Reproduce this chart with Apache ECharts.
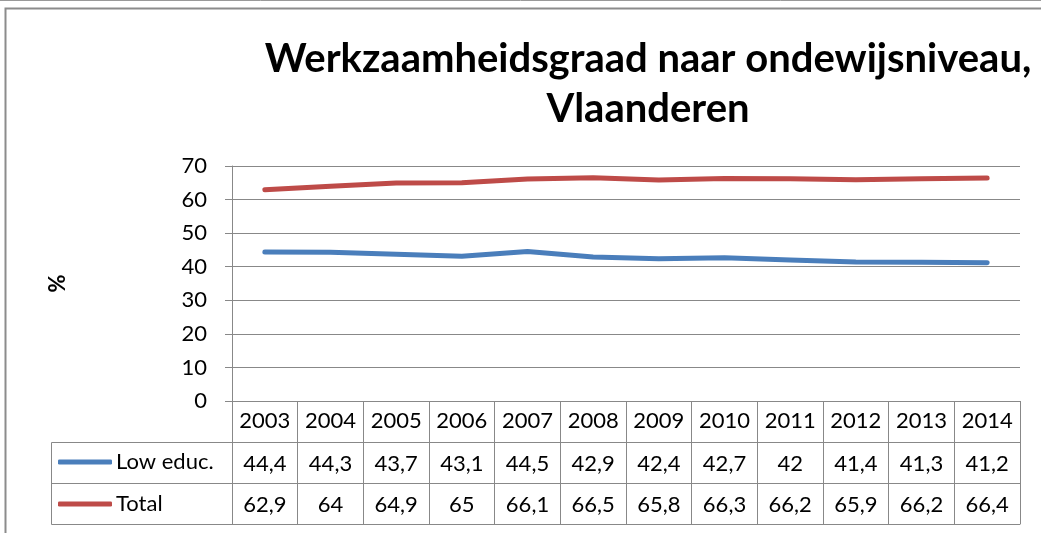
<!DOCTYPE html>
<html>
<head>
<meta charset="utf-8">
<script src="https://cdn.jsdelivr.net/npm/echarts@6/dist/echarts.min.js"></script>
<style>
  html, body { margin: 0; padding: 0; background: #fff; }
  #chart { width: 1041px; height: 533px; }
</style>
</head>
<body>
<div id="chart"></div>
<script>
var years = ['2003', '2004', '2005', '2006', '2007', '2008', '2009', '2010', '2011', '2012', '2013', '2014'];
var lowEduc = [44.4, 44.3, 43.7, 43.1, 44.5, 42.9, 42.4, 42.7, 42, 41.4, 41.3, 41.2];
var total = [62.9, 64, 64.9, 65, 66.1, 66.5, 65.8, 66.3, 66.2, 65.9, 66.2, 66.4];
var seriesNames = ['Low educ.', 'Total'];
var colors = ['#4A7EBB', '#BE4B48'];

var font = 'Lato, "Open Sans", sans-serif';
var gridColor = '#888888';

// Excel schrijft decimalen met een komma
function fmt(v) {
    return String(v).replace('.', ',');
}

// rij van de datatabel als extra x-as
function tableAxis(offset, values) {
    return {
        type: 'category',
        data: years,
        position: 'bottom',
        offset: offset,
        axisLine: { show: true, lineStyle: { color: gridColor, width: 1 } },
        axisTick: { show: false },
        axisLabel: {
            show: values != null,
            interval: 0,
            margin: 11,
            fontFamily: font,
            fontSize: 22,
            color: '#000',
            formatter: function (v, i) { return values ? fmt(values[i]) : ''; }
        }
    };
}

var chart = echarts.init(document.getElementById('chart'));
var option = {
    animation: false,
    backgroundColor: '#fff',
    color: colors,
    title: {
        text: 'Werkzaamheidsgraad naar ondewijsniveau,\nVlaanderen',
        left: 643,
        top: 29,
        textAlign: 'center',
        textStyle: {
            fontFamily: font,
            fontWeight: 'bold',
            fontSize: 40,
            lineHeight: 50,
            color: '#000'
        }
    },
    legend: {
        orient: 'vertical',
        left: 58,
        top: 451,
        padding: 0,
        itemWidth: 54,
        itemHeight: 5,
        itemGap: 20,
        icon: 'roundRect',
        data: seriesNames,
        textStyle: { fontFamily: font, fontSize: 22, color: '#000', padding: [0, 0, 0, -1] }
    },
    grid: {
        left: 232,
        right: 21,
        top: 166,
        bottom: 132,
        containLabel: false
    },
    xAxis: [
        {
            type: 'category',
            data: years,
            position: 'bottom',
            boundaryGap: true,
            axisLine: { show: true, lineStyle: { color: gridColor, width: 1 } },
            axisTick: { show: true, length: 123, lineStyle: { color: gridColor, width: 1 } },
            axisLabel: { interval: 0, margin: 9, fontFamily: font, fontSize: 22, color: '#000' },
            splitLine: { show: false }
        },
        tableAxis(41, lowEduc),
        tableAxis(82, total),
        tableAxis(123, null)
    ],
    yAxis: {
        type: 'value',
        min: 0,
        max: 70,
        interval: 10,
        name: '%',
        nameLocation: 'middle',
        nameRotate: 90,
        nameGap: 163,
        nameTextStyle: { fontFamily: font, fontWeight: 'bold', fontSize: 22, color: '#000' },
        axisLine: { show: true, lineStyle: { color: gridColor, width: 1 } },
        axisTick: { show: true, length: 7, lineStyle: { color: gridColor } },
        axisLabel: { margin: 25, fontFamily: font, fontSize: 22, color: '#000' },
        splitLine: { show: true, lineStyle: { color: gridColor, width: 1 } }
    },
    series: [
        {
            name: seriesNames[0],
            type: 'line',
            data: lowEduc,
            symbol: 'none',
            lineStyle: { width: 5, cap: 'round', join: 'round' }
        },
        {
            name: seriesNames[1],
            type: 'line',
            data: total,
            symbol: 'none',
            lineStyle: { width: 5, cap: 'round', join: 'round' }
        }
    ],
    graphic: [
        // kader van de grafiek
        { type: 'line', silent: true, shape: { x1: 0, y1: 0.5, x2: 1041, y2: 0.5 }, style: { stroke: '#999', lineWidth: 1 } },
        { type: 'rect', silent: true, shape: { x: 5.5, y: 8.5, width: 1200, height: 700 }, style: { fill: null, stroke: '#8c8c8c', lineWidth: 2 } },
        // legendekolom van de datatabel
        { type: 'line', silent: true, shape: { x1: 51.5, y1: 442.5, x2: 232, y2: 442.5 }, style: { stroke: gridColor, lineWidth: 1 } },
        { type: 'line', silent: true, shape: { x1: 51.5, y1: 483.5, x2: 232, y2: 483.5 }, style: { stroke: gridColor, lineWidth: 1 } },
        { type: 'line', silent: true, shape: { x1: 51.5, y1: 524.5, x2: 232, y2: 524.5 }, style: { stroke: gridColor, lineWidth: 1 } },
        { type: 'line', silent: true, shape: { x1: 51.5, y1: 442.5, x2: 51.5, y2: 524.5 }, style: { stroke: gridColor, lineWidth: 1 } }
    ]
};
chart.setOption(option);
</script>
</body>
</html>
